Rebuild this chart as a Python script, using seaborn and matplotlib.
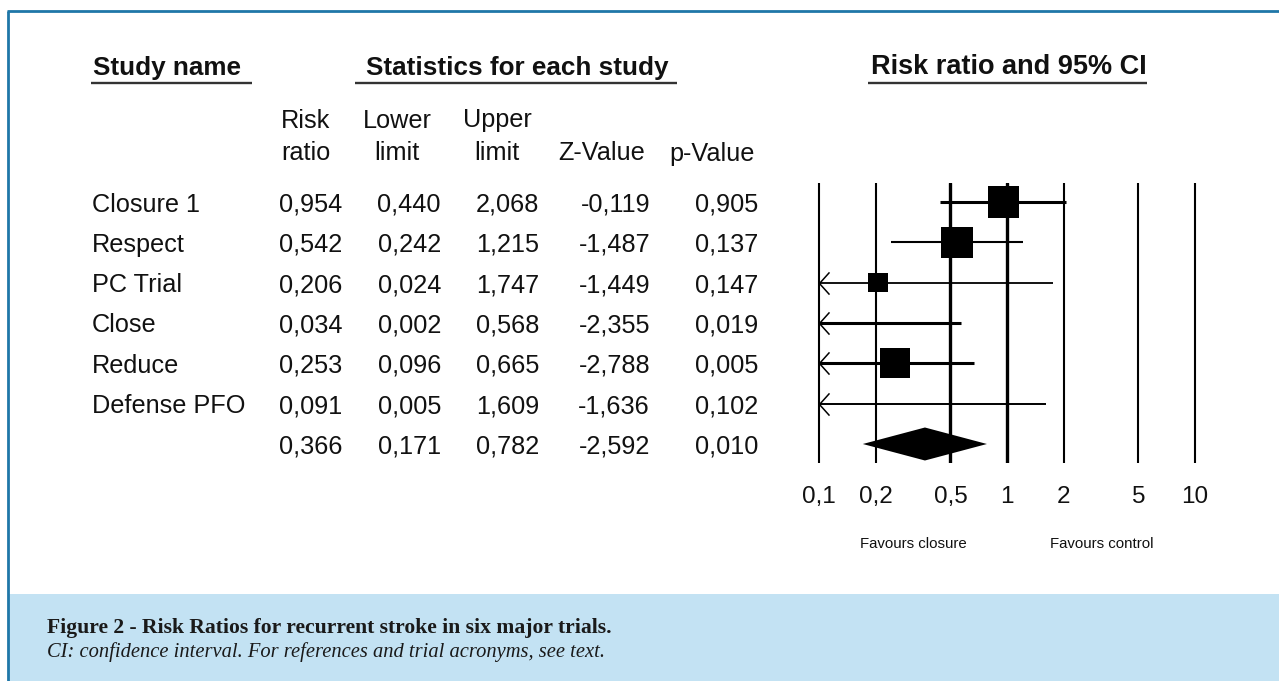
import numpy as np
import pandas as pd
import matplotlib
matplotlib.use("Agg")
import matplotlib.pyplot as plt
import seaborn as sns
from matplotlib.path import Path
from matplotlib.patches import Rectangle

# ---------------- data ----------------
studies = ["Closure 1", "Respect", "PC Trial", "Close", "Reduce", "Defense PFO"]
risk_ratio = [0.954, 0.542, 0.206, 0.034, 0.253, 0.091]
lower_limit = [0.440, 0.242, 0.024, 0.002, 0.096, 0.005]
upper_limit = [2.068, 1.215, 1.747, 0.568, 0.665, 1.609]
z_value = [-0.119, -1.487, -1.449, -2.355, -2.788, -1.636]
p_value = [0.905, 0.137, 0.147, 0.019, 0.005, 0.102]
study_weight = [31, 31, 20, 20, 30, 20]  # relative box size

summary_rr = 0.366
summary_lower = 0.171
summary_upper = 0.782
summary_z = -2.592
summary_p = 0.010

x_ticks = [0.1, 0.2, 0.5, 1, 2, 5, 10]
x_tick_labels = ["0,1", "0,2", "0,5", "1", "2", "5", "10"]
col_head_top = ["Risk", "Lower", "Upper", "", ""]
col_head_bottom = ["ratio", "limit", "limit", "Z-Value", "p-Value"]

title_study = "Study name"
title_stats = "Statistics for each study"
title_plot = "Risk ratio and 95% CI"
favours_left = "Favours closure"
favours_right = "Favours control"
caption_bold = "Figure 2 - Risk Ratios for recurrent stroke in six major trials."
caption_italic = "CI: confidence interval. For references and trial acronyms, see text."

# ---------------- style ----------------
sns.set_theme(style="white")
plt.rcParams["font.family"] = ["Liberation Sans", "DejaVu Sans"]
TXT = "#111111"
W, H = 1279, 681

fig = plt.figure(figsize=(W / 100, H / 100), dpi=100)
fig.patch.set_facecolor("white")

# background axes in pixel coordinates (for table/text/frame)
bg = fig.add_axes([0, 0, 1, 1])
bg.set_xlim(0, W)
bg.set_ylim(H, 0)
bg.axis("off")

# frame + caption panel
bg.add_patch(Rectangle((8, 594), W - 8, H - 594, facecolor="#c3e2f3", edgecolor="none"))
bg.plot([6.5, W], [11, 11], color="#1f77a8", lw=2.0, solid_capstyle="butt")
bg.plot([7.5, 7.5], [11, H], color="#1f77a8", lw=2.0, solid_capstyle="butt")

bg.text(47, 628, caption_bold, fontsize=15.6, fontweight="bold", color="#1a1a1a",
        family=["Liberation Serif"], va="center", ha="left")
bg.text(47, 652, caption_italic, fontsize=14.8, fontstyle="italic", color="#1a1a1a",
        family=["Liberation Serif"], va="center", ha="left")

# header titles
FS = 18.2
dy = 2.5
bg.text(93, 65 + dy, title_study, fontsize=18.8, fontweight="bold", color=TXT, va="center", ha="left")
bg.text(517, 65 + dy, title_stats, fontsize=18.8, fontweight="bold", color=TXT, va="center", ha="center")
bg.text(1009, 65 + dy, title_plot, fontsize=19.5, fontweight="bold", color=TXT, va="center", ha="center")
for x0, x1 in [(91, 252), (355, 677), (868, 1147)]:
    bg.plot([x0, x1], [83, 83], color="#333333", lw=1.7, solid_capstyle="butt")

# column headers
head_centers = [306, 397, 497, 602, 712]
for cx, t1, t2 in zip(head_centers, col_head_top, col_head_bottom):
    if t1:
        bg.text(cx, 118 + dy, t1, fontsize=FS, color=TXT, va="center", ha="center")
    bg.text(cx, 151 + dy, t2, fontsize=FS, color=TXT, va="center", ha="center")

# table rows
def fmt(v):
    return f"{v:.3f}".replace(".", ",")

row_y0, row_step = 202, 40.33
right_edges = [342, 441, 539, 650, 758]
table = pd.DataFrame({"study": studies, "rr": risk_ratio, "lo": lower_limit,
                      "hi": upper_limit, "z": z_value, "p": p_value})
for i, r in table.iterrows():
    y = row_y0 + i * row_step + dy
    bg.text(92, y, r["study"], fontsize=FS, color=TXT, va="center", ha="left")
    for xr, v in zip(right_edges, [r["rr"], r["lo"], r["hi"], r["z"], r["p"]]):
        bg.text(xr, y, fmt(v), fontsize=FS, color=TXT, va="center", ha="right")
ys = row_y0 + len(studies) * row_step + dy
for xr, v in zip(right_edges, [summary_rr, summary_lower, summary_upper, summary_z, summary_p]):
    bg.text(xr, ys, fmt(v), fontsize=FS, color=TXT, va="center", ha="right")

bg.text(913, 544, favours_left, fontsize=10.8, color=TXT, va="center", ha="center")
bg.text(1102, 544, favours_right, fontsize=10.8, color=TXT, va="center", ha="center")

# ---------------- forest plot axes ----------------
px_dec = 188.0
ax_l, ax_r, ax_t, ax_b = 800, 1215, 183, 463
ax = fig.add_axes([ax_l / W, 1 - ax_b / H, (ax_r - ax_l) / W, (ax_b - ax_t) / H])
ax.patch.set_alpha(0)
ax.set_xscale("log")
ax.set_xlim(10 ** (-1 - 19 / px_dec), 10 ** (1 + 20 / px_dec))
pad_rows = 19 / row_step
ax.set_ylim(len(studies) + pad_rows, -pad_rows)

for t in x_ticks:
    ax.axvline(t, color="black", lw=2.4 if t in (0.5, 1) else 1.5, zorder=1)

xmin_s, xmax_s = min(x_ticks), max(x_ticks)
thick = [2.2, 1.5, 1.3, 2.2, 2.2, 1.4]
arrow = Path([(0.9, 1.0), (0.0, 0.0), (0.9, -1.0)],
             [Path.MOVETO, Path.LINETO, Path.LINETO])
for i, r in table.iterrows():
    left = max(r["lo"], xmin_s)
    right = min(r["hi"], xmax_s)
    ax.hlines(i, left, right, color="black", lw=thick[i], zorder=2)
    if r["lo"] < xmin_s:
        ax.plot([xmin_s], [i], marker=arrow, ms=16, mfc="none", mec="black",
                mew=1.1, linestyle="none", zorder=3)

table["row"] = np.arange(len(studies))
table["weight"] = study_weight
vis = table[(table["rr"] >= xmin_s) & (table["rr"] <= xmax_s)]
sns.scatterplot(data=vis, x="rr", y="row", size="weight", sizes=(200, 500),
                size_norm=(20, 31), marker="s", color="black", linewidth=0,
                legend=False, ax=ax, zorder=4)

# summary diamond
yd = len(studies)
hd = 16.5 / row_step
ax.fill([summary_lower, summary_rr, summary_upper, summary_rr],
        [yd, yd - hd, yd, yd + hd], color="black", lw=0, zorder=4)

ax.set_xticks(x_ticks)
ax.set_xticklabels(x_tick_labels)
ax.minorticks_off()
ax.tick_params(axis="x", length=0, pad=16.5, labelsize=17.5, labelcolor=TXT)
ax.set_yticks([])
ax.set_xlabel("")
ax.set_ylabel("")
for s in ax.spines.values():
    s.set_visible(False)

fig.savefig("out.png", dpi=100, facecolor="white")
